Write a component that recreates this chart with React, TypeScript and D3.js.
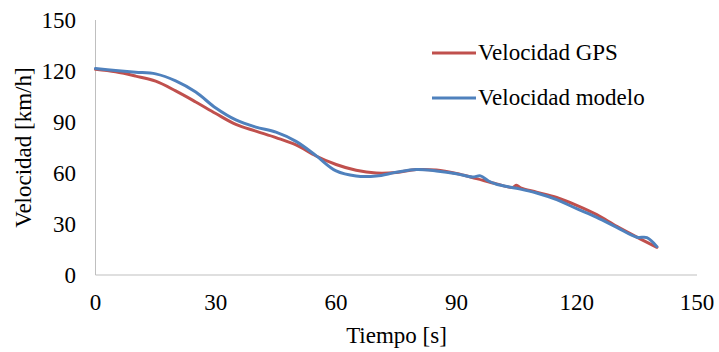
import React from "react";
import * as d3 from "d3";

const gpsTime = [0, 5, 10, 15, 20, 25, 30, 35, 40, 45, 50, 55, 60, 65, 70, 75, 80, 85, 90, 95, 100, 104, 105, 106, 110, 115, 120, 125, 130, 135, 140];
const gpsSpeed = [121, 119.5, 117, 114, 108.3, 101.8, 95, 88.6, 84.6, 80.8, 76.5, 70, 65, 61.6, 60, 60.3, 62, 61.7, 59.7, 56.7, 53.6, 51.5, 52.8, 51.3, 48.7, 45.6, 41, 35.5, 28.6, 22.3, 16.3];

const modelTime = [0, 5, 10, 15, 20, 25, 30, 35, 40, 45, 50, 55, 60, 65, 70, 75, 80, 85, 90, 94, 96, 98, 100, 105, 110, 115, 120, 125, 130, 135, 137.5, 140];
const modelSpeed = [121.5, 120.3, 119.3, 118.3, 114.2, 107.6, 98.2, 91.2, 87, 84, 78.6, 70.2, 61.2, 58.2, 58.2, 60.4, 62, 61.2, 59.6, 57.6, 58.3, 55.3, 53.4, 51, 48.2, 44.3, 39, 33.9, 28, 22.2, 22, 16.7];

const xTicks = [0, 30, 60, 90, 120, 150];
const yTicks = [0, 30, 60, 90, 120, 150];

const seriesNames = ["Velocidad GPS", "Velocidad modelo"];
const colors = ["#C0504D", "#4F81BD"];

const FONT = "Times New Roman";

export default function App() {
  const W = 719, H = 352;
  const x = d3.scaleLinear().domain([0, 150]).range([95.5, 697]);
  const y = d3.scaleLinear().domain([0, 150]).range([275, 20]);
  const line = d3.line<[number, number]>().x(d => x(d[0])).y(d => y(d[1])).curve(d3.curveCatmullRom);
  const gps = gpsTime.map((t, i) => [t, gpsSpeed[i]] as [number, number]);
  const model = modelTime.map((t, i) => [t, modelSpeed[i]] as [number, number]);
  const txt = (props: any, content: any, key?: string) => (
    <text key={key} fontSize={23} fill="#000" fontFamily={FONT} style={{ fontFamily: FONT }} {...props}>{content}</text>
  );
  return (
    <svg width={W} height={H} style={{ display: "block", position: "absolute", left: 0, top: 0 }}>
      <style>{`text { font-family: "Liberation Serif", "Times New Roman", serif; }`}</style>
      <rect width={W} height={H} fill="#fff" />
      <line x1={x(0)} x2={x(0)} y1={y(150)} y2={y(0)} stroke="#BFBFBF" strokeWidth={1} />
      <line x1={x(0)} x2={x(150)} y1={y(0)} y2={y(0)} stroke="#BFBFBF" strokeWidth={1} />
      {yTicks.map(v => txt({ x: 76, y: y(v), dy: "0.33em", textAnchor: "end" }, v, "y" + v))}
      {xTicks.map(v => txt({ x: x(v), y: 310, textAnchor: "middle" }, v, "x" + v))}
      {txt({ transform: "translate(31,147.5) rotate(-90)", textAnchor: "middle" }, "Velocidad [km/h]")}
      {txt({ x: 396.5, y: 343, textAnchor: "middle" }, "Tiempo [s]")}
      <path d={line(gps) || ""} fill="none" stroke={colors[0]} strokeWidth={3} strokeLinejoin="round" strokeLinecap="round" />
      <path d={line(model) || ""} fill="none" stroke={colors[1]} strokeWidth={3} strokeLinejoin="round" strokeLinecap="round" />
      {seriesNames.map((n, i) => (
        <g key={n} transform={`translate(432,${53 + i * 45})`}>
          <line x1={0} x2={44} y1={0} y2={0} stroke={colors[i]} strokeWidth={3} />
          {txt({ x: 46, y: 7 }, n)}
        </g>
      ))}
    </svg>
  );
}
